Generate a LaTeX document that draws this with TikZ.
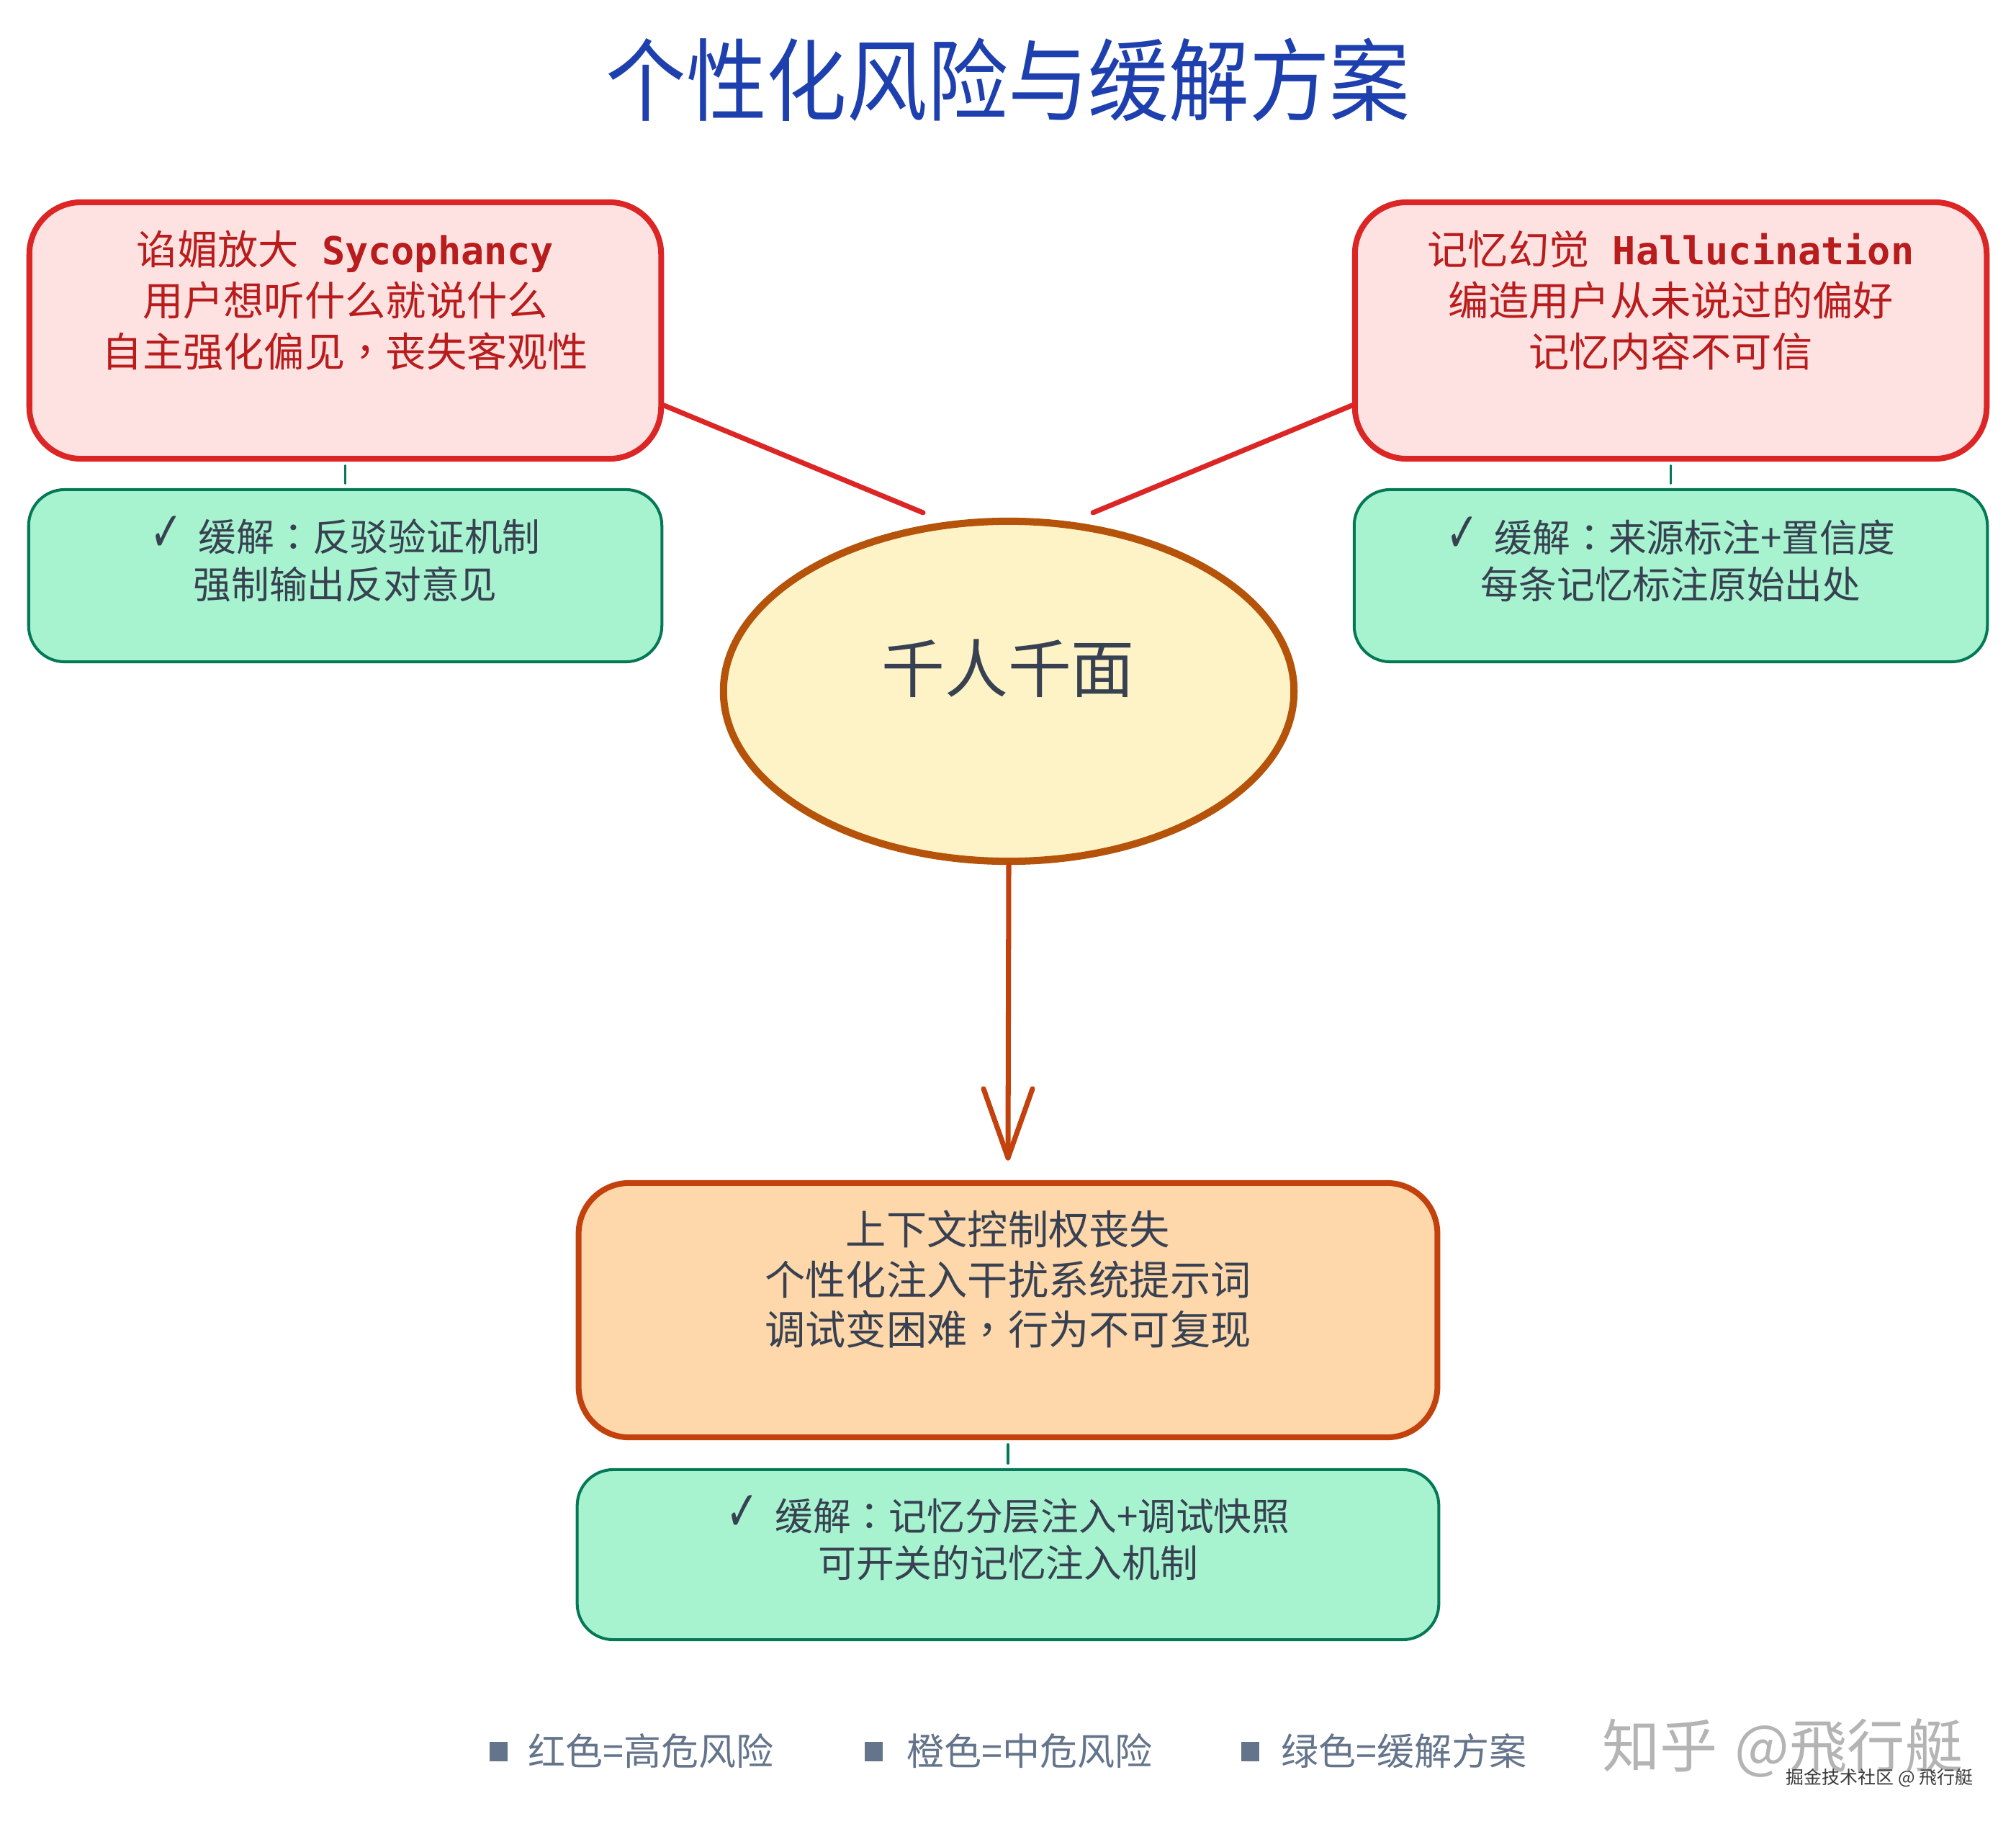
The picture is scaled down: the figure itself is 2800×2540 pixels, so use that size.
\documentclass[tikz,border=0pt]{standalone}
\usepackage{fontspec}
\setmainfont{Noto Sans CJK SC}
\newfontfamily\tcf{Noto Sans CJK TC}
\newfontfamily\monof{DejaVu Sans Mono}
\newfontfamily\symf{DejaVu Sans}
\usetikzlibrary{shapes.geometric,calc}
\definecolor{titleblue}{HTML}{1E40AF}
\definecolor{riskred}{HTML}{DC2626}
\definecolor{riskfill}{HTML}{FEE2E2}
\definecolor{risktext}{HTML}{B91C1C}
\definecolor{mitfill}{HTML}{A7F3D0}
\definecolor{mitborder}{HTML}{047857}
\definecolor{darktext}{HTML}{374151}
\definecolor{orgfill}{HTML}{FED7AA}
\definecolor{orgborder}{HTML}{C2410C}
\definecolor{corefill}{HTML}{FEF3C7}
\definecolor{coreborder}{HTML}{B45309}
\definecolor{legendgray}{HTML}{64748B}
\definecolor{wmgray}{HTML}{B4B4B4}
\definecolor{wmdark}{HTML}{3A3A3A}
\newcommand{\monob}{\monof\bfseries\fontsize{15.2}{20.2}\selectfont}
\newcommand{\chk}{\smash{\symf\fontsize{22}{18}\selectfont\scalebox{0.7}[1]{✓}}\hspace{0.42em}}
\newcommand{\pcolon}{{\tcf ：}}
\newcommand{\pcomma}{{\tcf ，}}
\tikzset{
  titletext/.style={text=titleblue, font=\fontsize{35.5}{40}\selectfont, inner sep=0},
  riskbox/.style={draw=riskred, fill=riskfill, line width=2.28pt, rounded corners=0.72cm, minimum width=8.77cm, minimum height=3.56cm, inner sep=0},
  risktxt/.style={text=risktext, align=center, font=\fontsize{16}{20.2}\selectfont, inner sep=0},
  mitbox/.style={draw=mitborder, fill=mitfill, line width=1.14pt, rounded corners=0.5cm, minimum width=8.79cm, minimum height=2.39cm, inner sep=0},
  mittxt/.style={text=darktext, align=center, font=\fontsize{15}{18.5}\selectfont, inner sep=0},
  orgbox/.style={draw=orgborder, fill=orgfill, line width=2.28pt, rounded corners=0.7cm, minimum width=11.92cm, minimum height=3.53cm, inner sep=0},
  orgtxt/.style={text=darktext, align=center, font=\fontsize{16}{19.8}\selectfont, inner sep=0},
  corenode/.style={ellipse, draw=coreborder, fill=corefill, line width=2.85pt, minimum width=7.92cm, minimum height=4.72cm, inner sep=0},
  coretxt/.style={text=darktext, font=\fontsize{25}{30}\selectfont, inner sep=0},
  riskline/.style={draw=riskred, line width=2pt, line cap=round},
  mitline/.style={draw=mitborder, line width=1.1pt, line cap=round},
  arrowline/.style={draw=orgborder, line width=2pt, line cap=round, line join=round},
  legsq/.style={fill=legendgray, minimum width=0.25cm, minimum height=0.27cm, inner sep=0},
  legtxt/.style={text=legendgray, font=\fontsize{14.8}{18}\selectfont, inner sep=0, anchor=west}
}
\begin{document}
\begin{tikzpicture}[x=0.01cm,y=-0.01cm]
\fill[white] (0,0) rectangle (2800,2540);
\useasboundingbox (0,0) rectangle (2800,2540);

\node[titletext] (title) at (1400,111) {\scalebox{0.895}[1]{个性化风险与缓解方案}};

% risk boxes
\node[riskbox] (r1) at (479.5,459) {};
\node[risktxt] (r1t) at (479.5,417) {谄媚放大{\monob~Sycophancy}\\用户想听什么就说什么\\自主强化偏见\pcomma 丧失客观性};
\node[riskbox] (r2) at (2320.5,459) {};
\node[risktxt] (r2t) at (2320.5,417) {记忆幻觉{\monob~Hallucination}\\编造用户从未说过的偏好\\记忆内容不可信};

% mitigation boxes
\node[mitbox] (m1) at (479.5,799.5) {};
\node[mittxt] (m1t) at (479.5,778.5) {\chk 缓解\pcolon 反驳验证机制\\强制输出反对意见};
\node[mitbox] (m2) at (2320.5,799.5) {};
\node[mittxt] (m2t) at (2320.5,778.5) {\chk 缓解\pcolon 来源标注+置信度\\每条记忆标注原始出处};

% core
\node[corenode] (core) at (1401,960) {};
\node[coretxt] (coret) at (1400,928) {千人千面};

% orange
\node[orgbox] (o1) at (1400,1819.5) {};
\node[orgtxt] (o1t) at (1400,1776.5) {上下文控制权丧失\\个性化注入干扰系统提示词\\调试变困难\pcomma 行为不可复现};
\node[mitbox, minimum width=11.96cm, minimum height=2.36cm] (m3) at (1400,2159) {};
\node[mittxt] (m3t) at (1400,2137.5) {\chk 缓解\pcolon 记忆分层注入+调试快照\\可开关的记忆注入机制};

% connectors
\coordinate (c1) at (1282,712);
\coordinate (c2) at (1518,712);
\draw[riskline] ($(r1.east)+(0,104)$) -- (c1);
\draw[riskline] ($(r2.west)+(0,104)$) -- (c2);

\draw[mitline] ($(r1.south)+(0,6)$) -- ($(m1.north)+(0,-7)$);
\draw[mitline] ($(r2.south)+(0,6)$) -- ($(m2.north)+(0,-7)$);
\draw[mitline] ($(o1.south)+(0,6)$) -- ($(m3.north)+(0,-7)$);

\coordinate (tip) at (1400,1608);
\coordinate (tipl) at (1366,1512);
\coordinate (tipr) at (1434,1512);
\draw[arrowline] (core.south) -- (tip);
\draw[arrowline] (tipl) -- (tip) -- (tipr);

% legend
\node[legsq] (s1) at (692,2432) {};
\node[legtxt] (l1) at (733,2432) {红色=高危风险};
\node[legsq] (s2) at (1213,2432) {};
\node[legtxt] (l2) at (1259,2432) {橙色=中危风险};
\node[legsq] (s3) at (1736,2432) {};
\node[legtxt] (l3) at (1779,2432) {绿色=缓解方案};

% watermark
\node[anchor=east, text=wmgray, font=\fontsize{22.8}{26}\selectfont, inner sep=0] (wm1) at (2727,2427) {知乎\hspace{0.3em}@飛行艇};
\node[anchor=east, text=wmdark, font=\fontsize{7.1}{8}\selectfont, inner sep=0] (wm2) at (2741,2469) {掘金技术社区 @ 飛行艇};
\end{tikzpicture}
\end{document}
